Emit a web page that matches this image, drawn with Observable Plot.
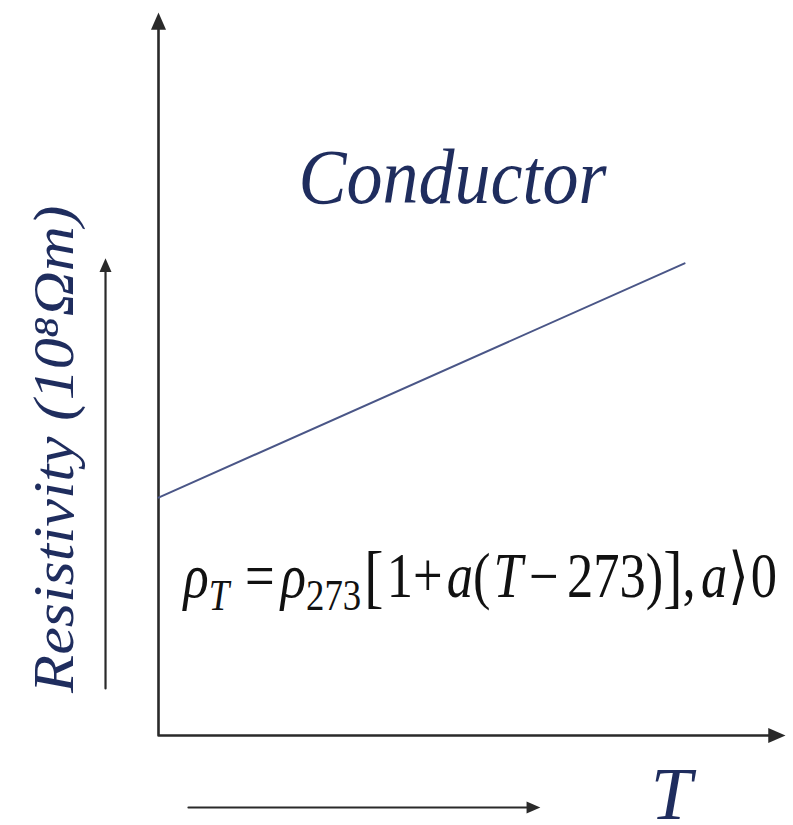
<!DOCTYPE html>
<html>
<head>
<meta charset="utf-8">
<script src="https://cdn.jsdelivr.net/npm/d3@7"></script>
<script src="https://cdn.jsdelivr.net/npm/@observablehq/plot@0.6"></script>
<style>
  html, body { margin: 0; padding: 0; background: #fff; }
  #chart svg { display: block; }
</style>
</head>
<body>
<div id="chart"></div>
<script>
// Conductor: resistivity rises linearly with temperature (abstract units, 0–100 on both axes)
const temperature = [0, 83.9];
const resistivity = [32.9, 65.3];

// Axis geometry (data units)
const axisMax = 100;

// Annotation texts
const titleText = "Conductor";
const yLabelText = "Resistivity (10⁸Ωm)";
const xLabelText = "T";
// Formula pieces: gap = extra space before the piece (px), sub = subscript, big = enlarged bracket
const formulaParts = [
  {t: "ρ", style: "italic"},
  {t: "T", style: "italic", sub: true},
  {t: "=", gap: 15},
  {t: "ρ", style: "italic", gap: 6},
  {t: "273", sub: true},
  {t: "[", big: true, gap: 3},
  {t: "1", gap: 3},
  {t: "+"},
  {t: "a", style: "italic", gap: 4},
  {t: "("},
  {t: "T", style: "italic", gap: 3},
  {t: "−", gap: 6},
  {t: "273", gap: 8},
  {t: ")"},
  {t: "]", big: true},
  {t: ","},
  {t: "a", style: "italic", gap: 5},
  {t: "⟩", gap: 1},
  {t: "0", gap: 2}
];

const conductor = temperature.map((T, i) => ({T, rho: resistivity[i]}));

// Filled arrowheads with the tip at the mark's position
const headUp = {
  draw(ctx, size) {
    const r = Math.sqrt(size / Math.PI);
    ctx.moveTo(0, 0);
    ctx.lineTo(-0.5 * r, 1.15 * r);
    ctx.lineTo(0.5 * r, 1.15 * r);
    ctx.closePath();
  }
};
const headRight = {
  draw(ctx, size) {
    const r = Math.sqrt(size / Math.PI);
    ctx.moveTo(0, 0);
    ctx.lineTo(-1.15 * r, -0.5 * r);
    ctx.lineTo(-1.15 * r, 0.5 * r);
    ctx.closePath();
  }
};

const ink = "#2a2a2a";
const navy = "#1f2d5e";
const serif = "'Liberation Serif', 'DejaVu Serif', serif";

// y-arrow beside the label and x-arrow under the axis
const yArrow = {x: -8.45, y1: 6.5, y2: 66.0};
const xArrow = {y: -9.96, x1: 4.78, x2: 60.9};

const plot = Plot.plot({
  width: 793,
  height: 825,
  marginLeft: 158,
  marginRight: 8,
  marginTop: 12,
  marginBottom: 90,
  x: {domain: [0, axisMax], axis: null},
  y: {domain: [0, axisMax], axis: null},
  style: {background: "#fff", overflow: "visible"},
  marks: [
    // main axes
    Plot.line([[0, axisMax - 2.2], [0, 0], [axisMax - 2.2, 0]], {stroke: ink, strokeWidth: 2.6}),
    Plot.dot([[0, axisMax]], {symbol: headUp, r: 15, fill: ink, stroke: "none"}),
    Plot.dot([[axisMax, 0]], {symbol: headRight, r: 15, fill: ink, stroke: "none"}),
    // helper arrows
    Plot.line([[yArrow.x, yArrow.y1], [yArrow.x, yArrow.y2 - 1.8]], {stroke: ink, strokeWidth: 2.2}),
    Plot.dot([[yArrow.x, yArrow.y2]], {symbol: headUp, r: 12, fill: ink, stroke: "none"}),
    Plot.line([[xArrow.x1, xArrow.y], [xArrow.x2 - 2, xArrow.y]], {stroke: ink, strokeWidth: 2.2}),
    Plot.dot([[xArrow.x2, xArrow.y]], {symbol: headRight, r: 12, fill: ink, stroke: "none"}),
    // conductor line
    Plot.line(conductor, {x: "T", y: "rho", stroke: "#4a5687", strokeWidth: 2}),
    // texts
    Plot.text([titleText], {x: 46.9, y: 73.7, text: d => d, fontSize: 72, fontStyle: "italic",
      fontFamily: serif, fill: navy, textAnchor: "middle", lineAnchor: "bottom", className: "title"}),
    Plot.text([yLabelText], {x: -13.56, y: 39.6, text: d => d, fontSize: 58, fontStyle: "italic",
      fontFamily: serif, fill: navy, rotate: -90, textAnchor: "middle", lineAnchor: "bottom", className: "ylabel"}),
    Plot.text([xLabelText], {x: 81.8, y: -11.6, text: d => d, fontSize: 74, fontStyle: "italic",
      fontFamily: serif, fill: navy, textAnchor: "middle", lineAnchor: "bottom"}),
    Plot.text([formulaParts.map(p => p.t).join("")], {x: 3.99, y: 19.1, text: d => d, fontSize: 52.5,
      fontFamily: serif, fill: "#111", textAnchor: "start", lineAnchor: "bottom", className: "formula"})
  ]
});

// Stretch helper: append a scale to a text element's transform
function stretch(sel, sx, sy) {
  sel.attr("transform", function() {
    return (this.getAttribute("transform") || "") + ` scale(${sx},${sy})`;
  });
}

// Typeset the formula with subscripts and larger brackets
const ftext = d3.select(plot).select(".formula text");
ftext.text(null);
let shift = 0;
for (const p of formulaParts) {
  const target = p.sub ? 10.9 : p.big ? 2 : 0;
  const ts = ftext.append("tspan").text(p.t).attr("dy", target - shift);
  shift = target;
  if (p.gap) ts.attr("dx", p.gap * 1.05);
  if (p.style) ts.attr("font-style", p.style);
  if (p.sub) ts.attr("font-size", "0.7em");
  if (p.big) ts.attr("font-size", "1.1em");
}
stretch(ftext, 1, 1.19);
stretch(d3.select(plot).select(".title text"), 1, 1.08);
stretch(d3.select(plot).select(".ylabel text"), 1.075, 1);

document.getElementById("chart").appendChild(plot);
</script>
</body>
</html>
